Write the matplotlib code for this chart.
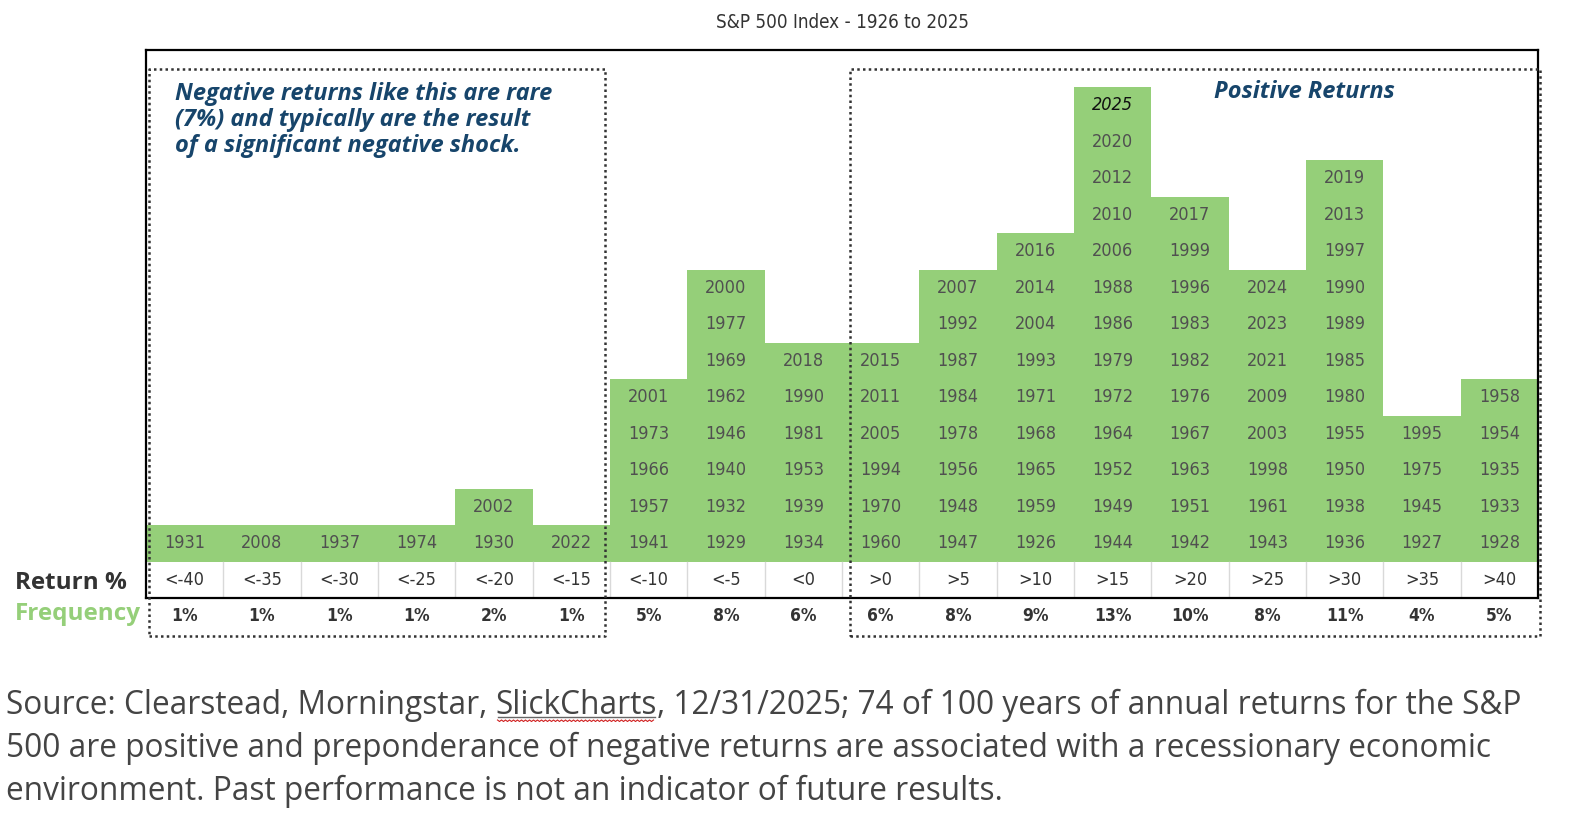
import matplotlib.pyplot as plt
import numpy as np

# return buckets and the years that fell into each one (bottom to top)
buckets = ["<-40", "<-35", "<-30", "<-25", "<-20", "<-15", "<-10", "<-5", "<0",
           ">0", ">5", ">10", ">15", ">20", ">25", ">30", ">35", ">40"]
years = [
    [1931],
    [2008],
    [1937],
    [1974],
    [1930, 2002],
    [2022],
    [1941, 1957, 1966, 1973, 2001],
    [1929, 1932, 1940, 1946, 1962, 1969, 1977, 2000],
    [1934, 1939, 1953, 1981, 1990, 2018],
    [1960, 1970, 1994, 2005, 2011, 2015],
    [1947, 1948, 1956, 1978, 1984, 1987, 1992, 2007],
    [1926, 1959, 1965, 1968, 1971, 1993, 2004, 2014, 2016],
    [1944, 1949, 1952, 1964, 1972, 1979, 1986, 1988, 2006, 2010, 2012, 2020, 2025],
    [1942, 1951, 1963, 1967, 1976, 1982, 1983, 1996, 1999, 2017],
    [1943, 1961, 1998, 2003, 2009, 2021, 2023, 2024],
    [1936, 1938, 1950, 1955, 1980, 1985, 1989, 1990, 1997, 2013, 2019],
    [1927, 1945, 1975, 1995],
    [1928, 1933, 1935, 1954, 1958],
]
freq = ["1%", "1%", "1%", "1%", "2%", "1%", "5%", "8%", "6%",
        "6%", "8%", "9%", "13%", "10%", "8%", "11%", "4%", "5%"]
counts = [len(y) for y in years]
latest = 2025

GREEN = "#95CF79"
NAVY = "#17456B"
narrow = dict(family="DejaVu Sans", stretch="condensed")

W, H = 1593, 823
fig = plt.figure(figsize=(W / 100, H / 100), dpi=100)

# axes box in pixels: left 146, right 1538, top 50, bottom 598
ax = fig.add_axes([146 / W, 1 - 598 / H, (1538 - 146) / W, (598 - 50) / H])
unit = 36.5
ax.set_xlim(0, 18)
ax.set_ylim(-1, (598 - 50) / unit - 1)
ax.set_xticks([])
ax.set_yticks([])
for s in ax.spines.values():
    s.set_linewidth(1.6)
    s.set_color("black")

x = np.arange(len(buckets)) + 0.5
ax.bar(x, counts, width=1.0, bottom=0, color=GREEN, edgecolor="none", zorder=1)

for i, ys in enumerate(years):
    for j, yr in enumerate(ys):
        if yr == latest:
            ax.text(x[i], j + 0.5, str(yr), ha="center", va="center", fontsize=13,
                    color="#111111", style="italic", zorder=3, **narrow)
        else:
            ax.text(x[i], j + 0.5, str(yr), ha="center", va="center", fontsize=13,
                    color="#505050", zorder=3, **narrow)

# return % row
for i in range(1, len(buckets)):
    ax.plot([i, i], [-1, 0], color="#d9d9d9", lw=1, zorder=2)
for i, b in enumerate(buckets):
    ax.text(x[i], -0.5, b, ha="center", va="center", fontsize=13,
            color="#333333", **narrow)
    ax.text(x[i], -1.48, freq[i], ha="center", va="center", fontsize=12.5,
            weight="bold", color="#333333", clip_on=False, **narrow)

# dotted boxes
box_kw = dict(color="#333333", lw=1.8, ls=(0, (1, 1.3)), clip_on=False, zorder=4)
for x0, x1 in [(0.04, 5.94), (9.10, 18.03)]:
    y0, y1 = -2.05, 13.48
    ax.plot([x0, x1, x1, x0, x0], [y0, y0, y1, y1, y0], **box_kw)

ax.text(0.38, 13.15, "Negative returns like this are rare\n(7%) and typically are the result\nof a significant negative shock.",
        ha="left", va="top", fontsize=17, family="Open Sans", weight="bold",
        style="italic", color=NAVY, linespacing=1.12)
ax.text(14.98, 12.85, "Positive Returns", ha="center", va="center", fontsize=17,
        family="Open Sans", weight="bold", style="italic", color=NAVY)

ax.text(-0.25, -0.6, "Return %", ha="right", va="center", fontsize=17.5,
        family="Open Sans", weight="bold", color="#333333", clip_on=False)
ax.text(-0.07, -1.45, "Frequency", ha="right", va="center", fontsize=17.5,
        family="Open Sans", weight="bold", color=GREEN, clip_on=False)

fig.text(842 / W, 1 - 22 / H, "S&P 500 Index - 1926 to 2025", ha="center", va="center",
         fontsize=13.5, color="#333333", **narrow)

# source note
src_kw = dict(fontsize=22.8, family="Open Sans", color="#444444", va="baseline")
x0 = 6 / W
t1 = fig.text(x0, 1 - 714 / H, "Source: Clearstead, Morningstar, ", **src_kw)
fig.canvas.draw()
r = fig.canvas.get_renderer()
bb1 = t1.get_window_extent(r)
t2 = fig.text(bb1.x1 / W, 1 - 714 / H, "SlickCharts", **src_kw)
bb2 = t2.get_window_extent(r)
fig.text(bb2.x1 / W, 1 - 714 / H, ", 12/31/2025; 74 of 100 years of annual returns for the S&P", **src_kw)
ux = np.linspace(bb2.x0 + 2, bb2.x1 - 2, 2)
fig.add_artist(plt.Line2D(ux / W, [1 - 717 / H] * 2, color="#666666", lw=1))
zx = np.arange(bb2.x0 + 2, bb2.x1 - 2, 2.0)
zy = 1 - (720 + (np.arange(len(zx)) % 2) * 1.5) / H
fig.add_artist(plt.Line2D(zx / W, zy, color="#d02020", lw=0.8))
fig.text(x0, 1 - 757 / H, "500 are positive and preponderance of negative returns are associated with a recessionary economic", **src_kw)
fig.text(x0, 1 - 800 / H, "environment. Past performance is not an indicator of future results.", **src_kw)

fig.savefig("out.png", dpi=100)
